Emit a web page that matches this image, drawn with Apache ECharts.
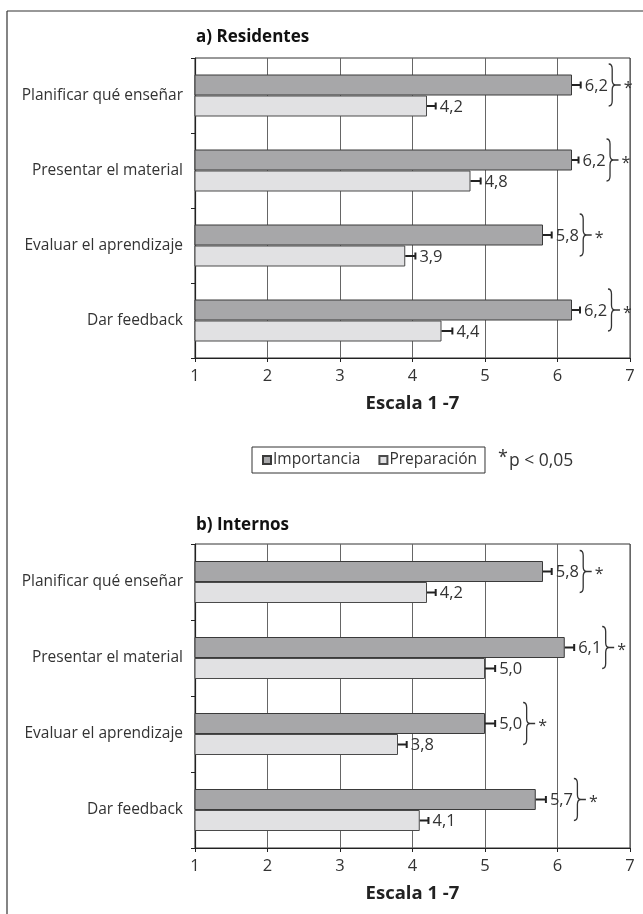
<!DOCTYPE html>
<html>

<head>
	<meta charset="UTF-8">
	<title></title>
	<style>
		html, body { margin: 0; padding: 0; background: #fff; }
		#chart {
			width: 643px;
			height: 914px;
		}
	</style>
	<script src="https://cdn.jsdelivr.net/npm/echarts@6/dist/echarts.min.js"></script>
</head>

<body>
	<div id="chart"></div>
	<script>
		var categories = ['Planificar qué enseñar', 'Presentar el material', 'Evaluar el aprendizaje', 'Dar feedback'];
		var xTicks = [1, 2, 3, 4, 5, 6, 7];

		// a) Residentes
		var resImportancia = [6.2, 6.2, 5.8, 6.2];
		var resPreparacion = [4.2, 4.8, 3.9, 4.4];
		var resErrImp = [0.12, 0.09, 0.12, 0.11];
		var resErrPrep = [0.12, 0.14, 0.14, 0.15];

		// b) Internos
		var intImportancia = [5.8, 6.1, 5.0, 5.7];
		var intPreparacion = [4.2, 5.0, 3.8, 4.1];
		var intErrImp = [0.12, 0.13, 0.14, 0.14];
		var intErrPrep = [0.12, 0.14, 0.12, 0.12];

		var FONT = '"Open Sans", sans-serif';
		var BAR_W = 21;

		function fmt(v) {
			return v.toFixed(1).replace('.', ',');
		}

		function markData(imp, prep, eImp, ePrep) {
			return imp.map(function (v, i) {
				return [v, i, prep[i], eImp[i], ePrep[i]];
			});
		}

		// error bars, value labels, brace and asterisk
		function renderMarks(params, api) {
			var cat = api.value(1);
			var base = api.coord([1, cat]);
			var children = [];
			var capDark = 0, yDark = 0;
			[[api.value(0), api.value(3)], [api.value(2), api.value(4)]].forEach(function (s, k) {
				var yc = base[1] + (k === 0 ? -BAR_W / 2 : BAR_W / 2);
				var x0 = api.coord([s[0], cat])[0];
				var x1 = api.coord([s[0] + s[1], cat])[0];
				children.push({ type: 'line', shape: { x1: x0, y1: yc, x2: x1, y2: yc }, style: { stroke: '#222', lineWidth: 2 } });
				children.push({ type: 'line', shape: { x1: x1, y1: yc - 3.5, x2: x1, y2: yc + 3.5 }, style: { stroke: '#222', lineWidth: 2 } });
				children.push({
					type: 'text', x: x1 + 4, y: yc + 1,
					style: { text: fmt(s[0]), fill: '#333', font: '16.5px ' + FONT, verticalAlign: 'middle', align: 'left' }
				});
				if (k === 0) { capDark = x1; yDark = yc; }
			});
			var bx = capDark + 4 + 24;
			var w = 7, h = 42;
			var top = yDark - h / 2, bot = yDark + h / 2, mx = bx + w / 2;
			var d = 'M' + bx + ' ' + top + ' Q' + mx + ' ' + top + ' ' + mx + ' ' + (top + 5) +
				' L' + mx + ' ' + (yDark - 5) + ' Q' + mx + ' ' + yDark + ' ' + (bx + w) + ' ' + yDark +
				' Q' + mx + ' ' + yDark + ' ' + mx + ' ' + (yDark + 5) +
				' L' + mx + ' ' + (bot - 5) + ' Q' + mx + ' ' + bot + ' ' + bx + ' ' + bot +
				' M' + (bx + w) + ' ' + yDark + ' L' + (bx + w + 5) + ' ' + yDark;
			children.push({ type: 'path', shape: { pathData: d }, style: { stroke: '#333', lineWidth: 1.3, fill: null } });
			children.push({
				type: 'text', x: bx + w + 8, y: yDark + 3,
				style: { text: '*', fill: '#333', font: '16px ' + FONT, verticalAlign: 'middle', align: 'left' }
			});
			return { type: 'group', children: children };
		}

		function xAxisOpt(idx) {
			return {
				gridIndex: idx,
				type: 'value',
				min: 1,
				max: 7,
				interval: 1,
				name: 'Escala 1 -7',
				nameLocation: 'middle',
				nameGap: 36,
				nameTextStyle: { fontFamily: FONT, fontWeight: 'bold', fontSize: 18.5, color: '#222' },
				axisLine: { show: true, lineStyle: { color: '#222', width: 1.2 } },
				axisTick: { show: true, length: 4, lineStyle: { color: '#222' } },
				axisLabel: { fontFamily: FONT, fontSize: 16.5, color: '#333', margin: 10 },
				splitLine: { show: true, lineStyle: { color: '#666', width: 1 } }
			};
		}

		function yAxisOpt(idx) {
			return {
				gridIndex: idx,
				type: 'category',
				data: categories,
				inverse: true,
				axisLine: { show: true, lineStyle: { color: '#222', width: 1.2 } },
				axisTick: { show: true, length: 4, lineStyle: { color: '#222' } },
				axisLabel: { fontFamily: FONT, fontSize: 15.5, color: '#333', margin: 12 },
				splitLine: { show: false }
			};
		}

		function barSeries(name, data, idx, color, border) {
			return {
				name: name,
				type: 'bar',
				xAxisIndex: idx,
				yAxisIndex: idx,
				data: data,
				barWidth: BAR_W,
				barGap: '0%',
				itemStyle: { color: color, borderColor: border, borderWidth: 1 },
				silent: true
			};
		}

		var myChart = echarts.init(document.getElementById('chart'));
		myChart.setOption({
			animation: false,
			textStyle: { fontFamily: FONT },
			title: [
				{ text: 'a) Residentes', left: 191, top: 24, textStyle: { fontFamily: FONT, fontSize: 17, fontWeight: 'bold', color: '#111' } },
				{ text: 'b) Internos', left: 191, top: 512, textStyle: { fontFamily: FONT, fontSize: 17, fontWeight: 'bold', color: '#111' } }
			],
			grid: [
				{ left: 195, right: 13, top: 58, height: 300, show: true, borderColor: '#333', borderWidth: 1 },
				{ left: 195, right: 13, top: 544, height: 304, show: true, borderColor: '#333', borderWidth: 1 }
			],
			xAxis: [xAxisOpt(0), xAxisOpt(1)],
			yAxis: [yAxisOpt(0), yAxisOpt(1)],
			legend: {
				data: ['Importancia', 'Preparación'],
				left: 252,
				top: 447,
				padding: [5, 8, 5, 10],
				itemWidth: 8,
				itemHeight: 8,
				itemGap: 18,
				icon: 'rect',
				borderColor: '#333',
				borderWidth: 1,
				textStyle: { fontFamily: FONT, fontSize: 15.5, color: '#333', padding: [0, 0, 0, -3] }
			},
			graphic: [
				{ type: 'line', shape: { x1: 7, y1: 11, x2: 643, y2: 11 }, style: { stroke: '#333', lineWidth: 1.2 } },
				{ type: 'line', shape: { x1: 7, y1: 11, x2: 7, y2: 914 }, style: { stroke: '#333', lineWidth: 1.2 } },
				{
					type: 'text', left: 498, top: 449,
					style: {
						text: '{s|*}{t|p < 0,05}',
						rich: {
							s: { fontFamily: FONT, fontSize: 18, fill: '#333', verticalAlign: 'top', padding: [0, 1, 6, 0] },
							t: { fontFamily: FONT, fontSize: 17.5, fill: '#333' }
						}
					}
				}
			],
			series: [
				barSeries('Importancia', resImportancia, 0, '#a7a7a9', '#3a3a3a'),
				barSeries('Preparación', resPreparacion, 0, '#e1e1e3', '#4a4a4a'),
				barSeries('Importancia', intImportancia, 1, '#a7a7a9', '#3a3a3a'),
				barSeries('Preparación', intPreparacion, 1, '#e1e1e3', '#4a4a4a'),
				{
					type: 'custom', xAxisIndex: 0, yAxisIndex: 0, silent: true, z: 5,
					renderItem: renderMarks, encode: { x: 0, y: 1 },
					data: markData(resImportancia, resPreparacion, resErrImp, resErrPrep)
				},
				{
					type: 'custom', xAxisIndex: 1, yAxisIndex: 1, silent: true, z: 5,
					renderItem: renderMarks, encode: { x: 0, y: 1 },
					data: markData(intImportancia, intPreparacion, intErrImp, intErrPrep)
				}
			]
		});
	</script>
</body>

</html>
